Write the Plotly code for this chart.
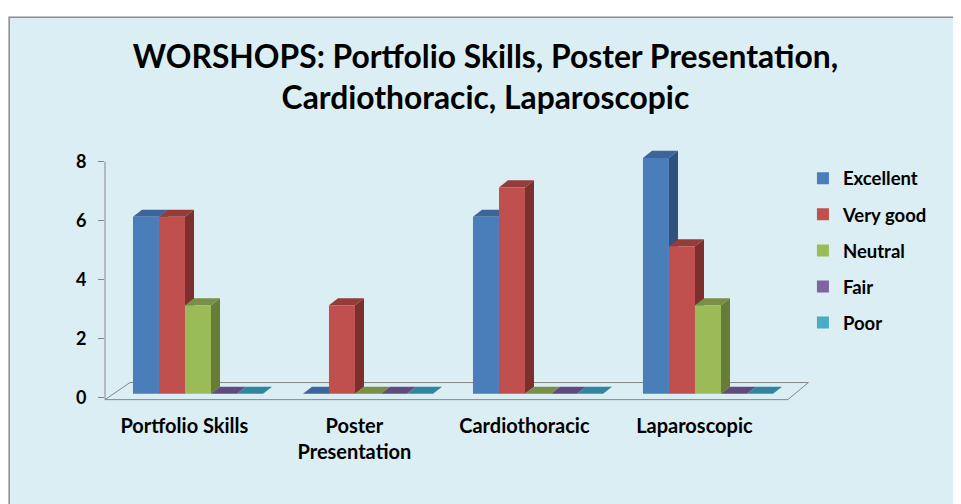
import plotly.graph_objects as go

# ---------------- data ----------------
categories = ["Portfolio Skills", "Poster Presentation", "Cardiothoracic", "Laparoscopic"]
tick_labels = ["Portfolio Skills", "Poster<br>Presentation", "Cardiothoracic", "Laparoscopic"]
series_names = ["Excellent", "Very good", "Neutral", "Fair", "Poor"]
excellent = [6, 0, 6, 8]
very_good = [6, 3, 7, 5]
neutral = [3, 0, 0, 3]
fair = [0, 0, 0, 0]
poor = [0, 0, 0, 0]
y_ticks = [0, 2, 4, 6, 8]
title_text = "WORSHOPS: Portfolio Skills, Poster Presentation,<br>Cardiothoracic, Laparoscopic"

series_values = [excellent, very_good, neutral, fair, poor]

# ---------------- style ----------------
front_colors = ["#4A7EBB", "#C0504D", "#9BBB59", "#8064A2", "#4BACC6"]
side_colors = ["#30507E", "#7D2F2D", "#667D38", "#4D3B63", "#2A6F82"]
top_colors = ["#3C659A", "#953B39", "#788F45", "#614B7C", "#31859C"]
BG = "#DBEEF4"
AXIS_COLOR = "#868686"
FONT = "Lato"

BAR_W = 0.153      # width of each bar in category units
DX = 0.053         # 3D depth, x (category units)
DY = 0.24          # 3D depth, y (value units)
LIFT = 0.13        # 3D projection: bars stand mid-way into the floor
X_RANGE = [-0.547, 3.6]
Y_RANGE = [-0.15, 8.5]
FLOOR_FRONT = -0.07
FLOOR_DEPTH_X = 0.147
FLOOR_DEPTH_Y = 0.58
FLOOR_RIGHT = 3.47

n_series = len(series_names)
fig = go.Figure()

shapes = []
# floor parallelogram
shapes.append(dict(
    type="path", xref="x", yref="y", layer="below",
    path=(f"M {X_RANGE[0]},{FLOOR_FRONT} L {FLOOR_RIGHT},{FLOOR_FRONT} "
          f"L {FLOOR_RIGHT + FLOOR_DEPTH_X*0.82},{FLOOR_FRONT + FLOOR_DEPTH_Y} "
          f"L {X_RANGE[0] + FLOOR_DEPTH_X},{FLOOR_FRONT + FLOOR_DEPTH_Y} Z"),
    line=dict(color=AXIS_COLOR, width=1), fillcolor="rgba(0,0,0,0)"))

# front faces via bars, side/top faces via shapes computed from data
for j, (name, vals) in enumerate(zip(series_names, series_values)):
    xs = [i + (j - (n_series - 1) / 2) * BAR_W for i in range(len(categories))]
    fig.add_trace(go.Bar(
        x=xs, y=vals, base=LIFT, width=BAR_W, name=name, legendgroup=name,
        marker=dict(color=front_colors[j], line=dict(width=0)),
        hovertext=categories,
    ))

for i in range(len(categories)):
    for j, vals in enumerate(series_values):
        v = vals[i] + LIFT
        x0 = i + (j - n_series / 2) * BAR_W
        x1 = x0 + BAR_W
        if vals[i] > 0:
            shapes.append(dict(
                type="path", xref="x", yref="y", layer="below",
                path=f"M {x1},{LIFT} L {x1+DX},{LIFT+DY} L {x1+DX},{v+DY} L {x1},{v} Z",
                fillcolor=side_colors[j], line=dict(width=0)))
        shapes.append(dict(
            type="path", xref="x", yref="y", layer="below",
            path=f"M {x0},{v} L {x1},{v} L {x1+DX},{v+DY} L {x0+DX},{v+DY} Z",
            fillcolor=top_colors[j], line=dict(width=0)))

# y axis line
shapes.append(dict(type="line", xref="paper", yref="y", x0=0, x1=0,
                   y0=FLOOR_FRONT, y1=y_ticks[-1], layer="below",
                   line=dict(color=AXIS_COLOR, width=1)))

# chart area background and border (paper coordinates)
shapes.insert(0, dict(type="rect", xref="paper", yref="paper",
                      x0=-0.136, x1=1.3, y0=-0.6, y1=1.509, layer="below",
                      fillcolor=BG, line=dict(color="#8C8C8C", width=1.5)))

fig.update_layout(
    width=953, height=496,
    margin=dict(l=97, r=151, t=139, b=102),
    paper_bgcolor="white", plot_bgcolor=BG,
    barmode="overlay",
    shapes=shapes,
    font=dict(family=FONT, color="black", size=16),
    title=dict(text=title_text, x=0.501, xref="container", xanchor="center",
               y=0.88, yref="container", yanchor="top",
               font=dict(family=FONT, size=31.8, weight=700, color="black")),
    legend=dict(x=0.99, xanchor="left", y=0.95, yanchor="top",
                bgcolor="rgba(0,0,0,0)", itemwidth=30,
                tracegroupgap=9, traceorder="grouped",
                font=dict(family=FONT, size=18.5, weight=700)),
    showlegend=True,
)
fig.update_xaxes(range=X_RANGE, tickvals=[i - 0.08 for i in range(len(categories))],
                 ticktext=tick_labels, showgrid=False, zeroline=False, showline=False,
                 ticks="", ticklabelstandoff=10,
                 tickfont=dict(family=FONT, size=20, weight=700))
fig.update_yaxes(range=Y_RANGE, tickvals=y_ticks, showgrid=False, zeroline=False,
                 showline=False, ticks="outside", ticklen=6, tickcolor=AXIS_COLOR,
                 ticklabelstandoff=8,
                 tickfont=dict(family=FONT, size=18, weight=700))

fig.write_html("out.html")
